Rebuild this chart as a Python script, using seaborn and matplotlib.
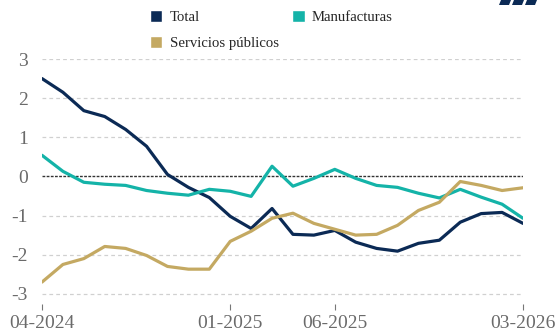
import matplotlib
matplotlib.use("Agg")
import matplotlib.pyplot as plt
import seaborn as sns
import pandas as pd
import numpy as np
from matplotlib.patches import Patch, Polygon

months = ["04-2024", "05-2024", "06-2024", "07-2024", "08-2024", "09-2024", "10-2024", "11-2024",
          "12-2024", "01-2025", "02-2025", "03-2025", "04-2025", "05-2025", "06-2025", "07-2025",
          "08-2025", "09-2025", "10-2025", "11-2025", "12-2025", "01-2026", "02-2026", "03-2026"]
total = [2.5, 2.15, 1.68, 1.53, 1.2, 0.77, 0.05, -0.28, -0.54, -1.02, -1.33, -0.82,
         -1.48, -1.5, -1.38, -1.68, -1.84, -1.91, -1.71, -1.63, -1.17, -0.95, -0.92, -1.2]
manufacturas = [0.54, 0.13, -0.15, -0.2, -0.23, -0.36, -0.43, -0.48, -0.33, -0.38, -0.51, 0.26,
                -0.25, -0.05, 0.18, -0.05, -0.23, -0.28, -0.43, -0.55, -0.33, -0.53, -0.71, -1.07]
servicios = [-2.7, -2.25, -2.1, -1.79, -1.84, -2.02, -2.3, -2.37, -2.37, -1.66, -1.4, -1.07,
             -0.94, -1.2, -1.35, -1.5, -1.48, -1.25, -0.87, -0.66, -0.13, -0.23, -0.36, -0.29]
series_names = ["Total", "Manufacturas", "Servicios públicos"]
colors = ["#0b2a55", "#14b3a8", "#c4a962"]
xtick_labels = ["04-2024", "01-2025", "06-2025", "03-2026"]
yticks = [-3, -2, -1, 0, 1, 2, 3]

df = pd.DataFrame({
    "idx": list(range(len(months))) * 3,
    "value": total + manufacturas + servicios,
    "serie": sum([[n] * len(months) for n in series_names], []),
})

sns.set_style("white")
plt.rcParams["font.family"] = ["Liberation Serif", "DejaVu Serif"]

fig = plt.figure(figsize=(5.57, 3.31), dpi=100)
ax = fig.add_axes([42 / 557, 1 - 304 / 331, (523 - 42) / 557, (304 - 59) / 331])

for y in yticks:
    if y == 0:
        continue
    ax.axhline(y, color="#d0d0d0", lw=0.9, ls=(0, (3, 2.5)), zorder=0)
ax.axhline(0, color="#333333", lw=1.0, ls=(0, (2, 1)), zorder=1)

sns.lineplot(data=df, x="idx", y="value", hue="serie", palette=dict(zip(series_names, colors)),
             linewidth=2.3, ax=ax, legend=False, zorder=3)

ax.set_xlim(0, len(months) - 1)
ax.set_ylim(-3.26, 3.0)
ax.set_xticks([months.index(m) for m in xtick_labels])
ax.set_xticklabels(xtick_labels)
ax.set_yticks(yticks)
ax.set_yticklabels([str(v) for v in yticks])
ax.set_xlabel("")
ax.set_ylabel("")
for s in ax.spines.values():
    s.set_visible(False)
ax.tick_params(axis="x", colors="#777777", labelsize=14, length=4, width=0.8, direction="out",
               bottom=True, pad=4)
ax.tick_params(axis="y", colors="#777777", labelsize=14, length=0, pad=10)
for lbl in ax.get_xticklabels() + ax.get_yticklabels():
    lbl.set_color("#6a6a6a")

handles = [Patch(facecolor=colors[0], label=series_names[0]),
           Patch(facecolor=colors[2], label=series_names[2]),
           Patch(facecolor=colors[1], label=series_names[1])]
fig.legend(handles=handles, ncol=2, loc="upper left", bbox_to_anchor=(147 / 557, 1 - 7 / 331),
           frameon=False, fontsize=10.6, handlelength=0.85, handleheight=0.85, handletextpad=0.5,
           columnspacing=0.9, labelspacing=0.85, borderaxespad=0, borderpad=0.2)

# small logo marks at top right
for x0 in [499, 512, 525]:
    pts = [(x0 + 2, 0), (x0 + 12, 0), (x0 + 10, 5), (x0, 5)]
    fig.patches.append(Polygon([(px / 557, 1 - py / 331) for px, py in pts], closed=True,
                               transform=fig.transFigure, facecolor="#0b2a55", edgecolor="none"))

fig.savefig("out.png", dpi=100)
